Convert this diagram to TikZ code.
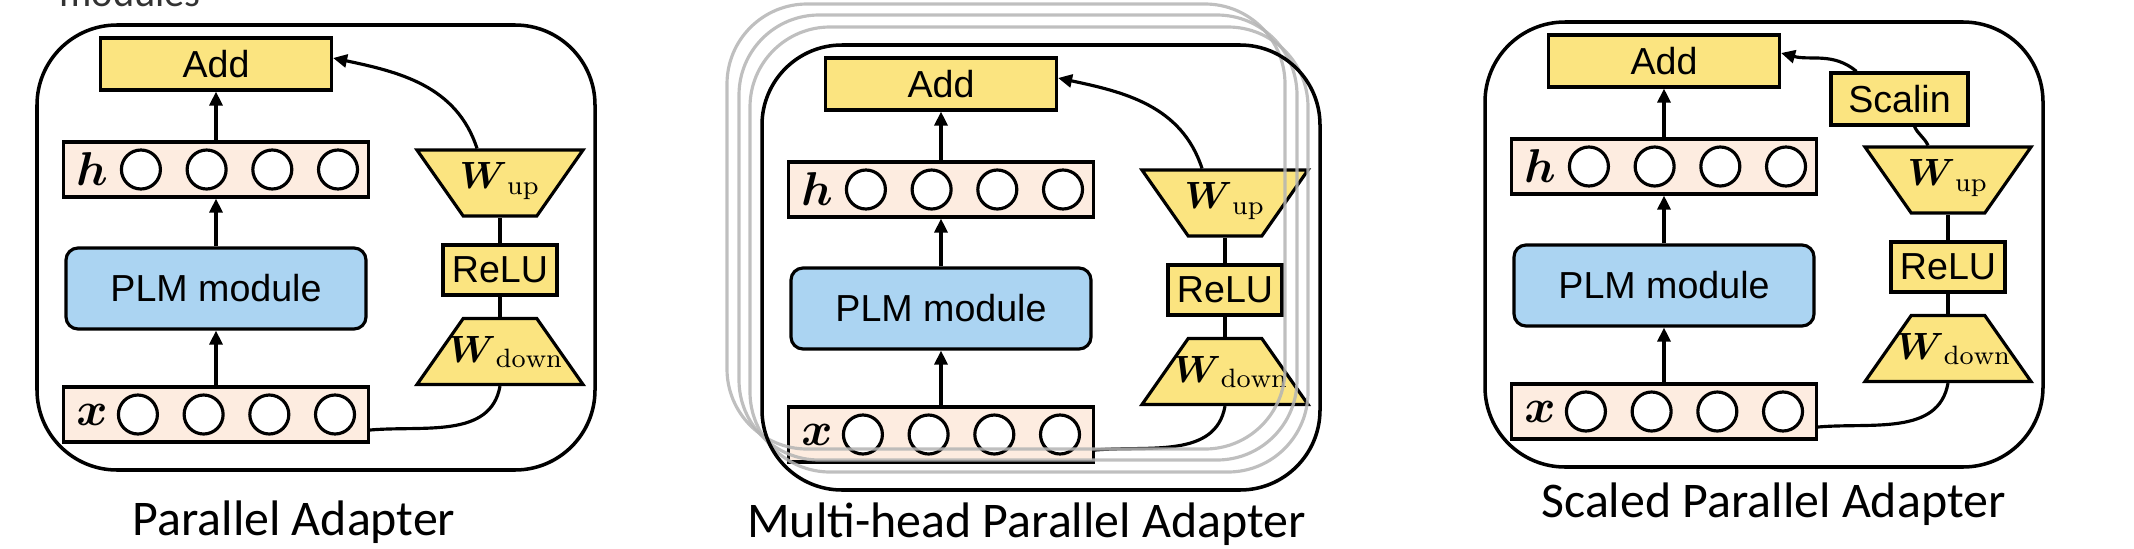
\RequirePackage{fix-cm}
\documentclass[tikz,border=0pt]{standalone}
\usepackage{fontspec}
\usepackage{amsmath}
\newfontfamily\labelfont{Liberation Sans}
\newfontfamily\captionfont{Carlito}
\usetikzlibrary{shapes.geometric,arrows.meta}

\definecolor{addyellow}{RGB}{251,228,128}
\definecolor{vecpeach}{RGB}{253,236,224}
\definecolor{plmblue}{RGB}{171,212,242}
\definecolor{stackgray}{RGB}{180,180,180}

\begin{document}
\begin{tikzpicture}[x=1mm, y=1mm, >={Triangle[length=1.4mm,width=1.3mm]}, line width=0.9pt,
  yellowbox/.style={draw, fill=addyellow, inner sep=0pt, font=\labelfont\fontsize{10.7}{12}\selectfont},
  plmbox/.style={draw, fill=plmblue, rounded corners=1.2mm, minimum width=30mm, minimum height=8.1mm,
    inner sep=0pt, font=\labelfont\fontsize{10.7}{12}\selectfont},
  vecbox/.style={draw, fill=vecpeach, minimum width=30.5mm, minimum height=5.5mm, inner sep=0pt},
  veclabel/.style={inner sep=0pt, font=\fontsize{13.5}{15}\selectfont},
  unit/.style={circle, draw, fill=white, minimum size=3.9mm, inner sep=0pt},
  wup/.style={trapezium, trapezium left angle=125, trapezium right angle=125,
    inner xsep=3.68mm, inner ysep=3.3mm, draw, fill=addyellow},
  wdown/.style={trapezium, trapezium angle=55,
    inner xsep=3.68mm, inner ysep=3.3mm, draw, fill=addyellow},
  wlabel/.style={inner sep=0pt, font=\fontsize{10.8}{12}\selectfont},
  module/.style={line width=1pt, rounded corners=8mm},
  captext/.style={inner sep=0pt, anchor=base, font=\captionfont\fontsize{14.2}{16}\selectfont}]

\useasboundingbox (0,0) rectangle (213.4,54.8);

% cut-off text at the top
\node[captext, anchor=base west, text=black!80, font=\captionfont\fontsize{11.5}{13}\selectfont] (cut) at (5.8,54.2) {modules};

% Parallel Adapter
\begin{scope}
\node[yellowbox, minimum width=23.1mm, minimum height=5.2mm] (a-add) at (21.6,48.4) {Add};
\node[vecbox] (a-h) at (21.6,37.85) {};
\node[veclabel] (a-hl) at ([xshift=3mm]a-h.west) {$\boldsymbol{h}$};
\foreach \i in {0,...,3}
  \node[unit] (a-h\i) at ([xshift={7.9mm+\i*6.57mm}]a-h.west) {};
\node[plmbox] (a-plm) at (21.6,25.95) {PLM module};
\node[vecbox] (a-x) at (21.6,13.35) {};
\node[veclabel] (a-xl) at ([xshift=3mm]a-x.west) {$\boldsymbol{x}$};
\foreach \i in {0,...,3}
  \node[unit] (a-x\i) at ([xshift={7.6mm+\i*6.57mm}]a-x.west) {};
\node[wup] (a-wup) at (50,36.5) {};
\node[wlabel] (a-wupl) at (50,36.7) {$\boldsymbol{W}_{\mathrm{up}}$};
\node[yellowbox, minimum width=11.4mm, minimum height=5mm] (a-relu) at (50,27.8) {ReLU};
\node[wdown] (a-wdown) at (50,19.65) {};
\node[wlabel] (a-wdownl) at (50.6,19.6) {$\boldsymbol{W}_{\mathrm{down}}$};

\draw[->] (a-x) -- (a-plm);
\draw[->] (a-plm) -- (a-h);
\draw[->] (a-h) -- (a-add);
\draw ([yshift=-1.55mm]a-x.east) to[out=5, in=-100] (a-wdown.south);
\draw (a-wdown) -- (a-relu);
\draw (a-relu) -- (a-wup);
\draw[->] ([xshift=-2.3mm]a-wup.north) to[out=108, in=-12] ([yshift=0.6mm]a-add.east);

\draw[module] (3.7,7.8) rectangle (59.5,52.3);
\node[captext] (a-cap) at (29.4,1.3) {Parallel Adapter};
\end{scope}

% Multi-head Parallel Adapter
\begin{scope}[shift={(72.5,-2)}]
\node[yellowbox, minimum width=23.1mm, minimum height=5.2mm] (b-add) at (21.6,48.4) {Add};
\node[vecbox] (b-h) at (21.6,37.85) {};
\node[veclabel] (b-hl) at ([xshift=3mm]b-h.west) {$\boldsymbol{h}$};
\foreach \i in {0,...,3}
  \node[unit] (b-h\i) at ([xshift={7.9mm+\i*6.57mm}]b-h.west) {};
\node[plmbox] (b-plm) at (21.6,25.95) {PLM module};
\node[vecbox] (b-x) at (21.6,13.35) {};
\node[veclabel] (b-xl) at ([xshift=3mm]b-x.west) {$\boldsymbol{x}$};
\foreach \i in {0,...,3}
  \node[unit] (b-x\i) at ([xshift={7.6mm+\i*6.57mm}]b-x.west) {};
\node[wup] (b-wup) at (50,36.5) {};
\node[wlabel] (b-wupl) at (50,36.7) {$\boldsymbol{W}_{\mathrm{up}}$};
\node[yellowbox, minimum width=11.4mm, minimum height=5mm] (b-relu) at (50,27.8) {ReLU};
\node[wdown] (b-wdown) at (50,19.65) {};
\node[wlabel] (b-wdownl) at (50.6,19.6) {$\boldsymbol{W}_{\mathrm{down}}$};

\draw[->] (b-x) -- (b-plm);
\draw[->] (b-plm) -- (b-h);
\draw[->] (b-h) -- (b-add);
\draw ([yshift=-1.55mm]b-x.east) to[out=5, in=-100] (b-wdown.south);
\draw (b-wdown) -- (b-relu);
\draw (b-relu) -- (b-wup);
\draw[->] ([xshift=-2.3mm]b-wup.north) to[out=108, in=-12] ([yshift=0.6mm]b-add.east);

% stacked heads
\draw[module, stackgray, line width=0.9pt, opacity=0.85] (0.2,11.9) rectangle (56.0,56.4);
\draw[module, stackgray, line width=0.9pt, opacity=0.85] (1.4,10.8) rectangle (57.2,55.3);
\draw[module, stackgray, line width=0.9pt, opacity=0.85] (2.5,9.6) rectangle (58.3,54.1);
\draw[module] (3.7,7.8) rectangle (59.5,52.3);
\node[captext] (b-cap) at (30.15,3.1) {Multi-head Parallel Adapter};
\end{scope}

% Scaled Parallel Adapter
\begin{scope}[shift={(144.8,0.3)}]
\node[yellowbox, minimum width=23.1mm, minimum height=5.2mm] (c-add) at (21.6,48.4) {Add};
\node[vecbox] (c-h) at (21.6,37.85) {};
\node[veclabel] (c-hl) at ([xshift=3mm]c-h.west) {$\boldsymbol{h}$};
\foreach \i in {0,...,3}
  \node[unit] (c-h\i) at ([xshift={7.9mm+\i*6.57mm}]c-h.west) {};
\node[plmbox] (c-plm) at (21.6,25.95) {PLM module};
\node[vecbox] (c-x) at (21.6,13.35) {};
\node[veclabel] (c-xl) at ([xshift=3mm]c-x.west) {$\boldsymbol{x}$};
\foreach \i in {0,...,3}
  \node[unit] (c-x\i) at ([xshift={7.6mm+\i*6.57mm}]c-x.west) {};
\node[yellowbox, minimum width=13.7mm, minimum height=5.2mm] (c-scale) at (45.15,44.6) {Scalin};
\node[wup] (c-wup) at (50,36.5) {};
\node[wlabel] (c-wupl) at (50,36.7) {$\boldsymbol{W}_{\mathrm{up}}$};
\node[yellowbox, minimum width=11.4mm, minimum height=5mm] (c-relu) at (50,27.8) {ReLU};
\node[wdown] (c-wdown) at (50,19.65) {};
\node[wlabel] (c-wdownl) at (50.6,19.6) {$\boldsymbol{W}_{\mathrm{down}}$};

\draw[->] (c-x) -- (c-plm);
\draw[->] (c-plm) -- (c-h);
\draw[->] (c-h) -- (c-add);
\draw ([yshift=-1.55mm]c-x.east) to[out=5, in=-100] (c-wdown.south);
\draw (c-wdown) -- (c-relu);
\draw (c-relu) -- (c-wup);
\draw ([xshift=-2mm]c-wup.north) to[out=115, in=-65] ([xshift=1.5mm]c-scale.south);
\draw[->] ([xshift=-4.3mm]c-scale.north) to[out=140, in=-15] ([yshift=0.8mm]c-add.east);

\draw[module] (3.7,7.8) rectangle (59.5,52.3);
\node[captext] (c-cap) at (32.55,2.8) {Scaled Parallel Adapter};
\end{scope}

\end{tikzpicture}
\end{document}
